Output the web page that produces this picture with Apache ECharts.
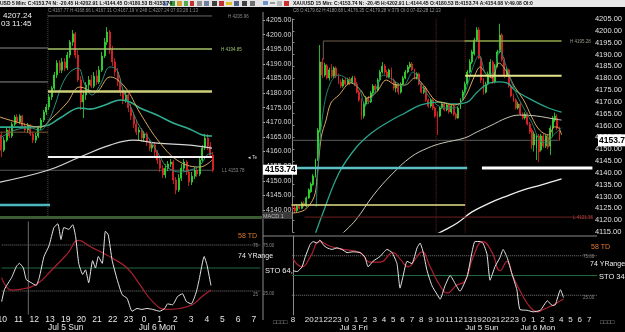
<!DOCTYPE html>
<html><head><meta charset="utf-8">
<script src="https://cdn.jsdelivr.net/npm/echarts/dist/echarts.min.js"></script>
<style>
html,body{margin:0;padding:0;background:#000;width:625px;height:332px;overflow:hidden}
#left{position:absolute;left:0;top:0;width:262px;height:332px}
#right{position:absolute;left:262px;top:0;width:363px;height:332px}
</style></head><body>
<div id="left"></div><div id="right"></div>
<script>
// ================= DATA =================
// ---- Left panel (XAUUSD, bars of 10 min from Fri 10:00) ----
const leftHourLabels=['10','11','12','13','19','20','21','22','23','0','1','2','3','4','5','6','7'];
const leftDateLabels=[[24,'Jul 5 Sun'],[59,'Jul 6 Mon']];
// [open, close, low, high]
const leftCandles=[
[4165.6,4160.5,4158.2,4166.6],[4160.5,4163.9,4159.9,4164.9],[4163.9,4167.3,4163.3,4168.3],[4167.3,4165.3,4164.6,4168.0],
[4165.3,4169.3,4164.6,4170.0],[4169.3,4171.7,4168.7,4172.4],[4171.7,4170.0,4169.3,4172.7],[4170.0,4172.1,4169.3,4172.7],
[4172.1,4168.7,4168.0,4172.4],[4168.7,4167.3,4166.6,4169.7],[4167.3,4169.0,4166.3,4169.7],[4169.0,4166.0,4165.3,4169.3],
[4166.0,4163.9,4162.9,4166.6],[4163.9,4165.3,4162.9,4166.3],[4165.3,4168.0,4164.6,4168.7],[4168.0,4170.7,4167.3,4171.4],
[4170.7,4173.4,4170.0,4174.1],[4173.4,4175.1,4172.4,4176.1],[4175.1,4178.5,4174.1,4179.5],[4178.5,4181.5,4177.5,4182.2],
[4181.5,4186.0,4180.9,4187.0],[4186.0,4190.0,4184.9,4191.0],[4190.0,4187.6,4186.6,4191.0],[4187.6,4190.4,4186.6,4191.7],
[4190.4,4188.3,4187.3,4191.7],[4188.3,4192.7,4187.6,4193.8],[4192.7,4197.1,4191.7,4197.8],[4197.1,4199.9,4195.8,4201.2],
[4199.9,4192.7,4191.7,4200.5],[4192.7,4184.3,4183.6,4194.4],[4184.3,4176.8,4174.1,4185.6],[4176.8,4179.2,4171.4,4180.2],
[4179.2,4182.6,4177.5,4183.6],[4182.6,4184.3,4180.2,4185.6],[4184.3,4182.2,4181.5,4186.0],[4182.2,4185.6,4181.5,4187.0],
[4185.6,4183.6,4182.6,4187.6],[4183.6,4187.6,4182.9,4189.0],[4187.6,4192.4,4187.0,4193.8],[4192.4,4197.1,4191.7,4198.5],
[4197.1,4200.5,4196.1,4202.2],[4200.5,4194.4,4193.1,4201.2],[4194.4,4190.4,4189.0,4195.8],[4190.4,4187.0,4185.6,4191.7],
[4187.0,4183.6,4182.2,4188.3],[4183.6,4180.2,4178.8,4184.9],[4180.2,4177.5,4176.1,4181.5],[4177.5,4179.2,4176.5,4180.2],
[4179.2,4174.8,4173.4,4179.9],[4174.8,4172.1,4170.7,4176.1],[4172.1,4169.3,4168.0,4173.4],[4169.3,4166.6,4165.6,4170.7],
[4166.6,4167.3,4163.9,4168.3],[4167.3,4164.6,4163.3,4168.0],[4164.6,4166.0,4163.3,4167.0],[4166.0,4163.3,4161.9,4166.6],
[4163.3,4161.2,4160.2,4164.3],[4161.2,4162.2,4159.9,4162.9],[4162.2,4159.9,4158.5,4163.3],[4159.9,4157.1,4155.8,4160.5],
[4157.1,4154.4,4153.1,4158.2],[4154.4,4152.1,4151.0,4155.4],[4152.1,4154.4,4151.0,4155.8],[4154.4,4155.8,4153.4,4156.8],
[4155.8,4156.5,4154.8,4157.5],[4156.5,4150.4,4149.0,4157.1],[4150.4,4147.0,4145.6,4151.4],[4147.0,4151.0,4146.3,4152.4],
[4151.0,4154.4,4150.0,4155.8],[4154.4,4156.5,4153.4,4157.5],[4156.5,4153.1,4152.1,4157.1],[4153.1,4149.7,4148.3,4154.1],
[4149.7,4151.7,4148.7,4153.1],[4151.7,4153.7,4150.7,4154.8],[4153.7,4152.4,4151.4,4154.8],[4152.4,4157.1,4151.7,4158.2],
[4157.1,4161.2,4156.5,4162.2],[4161.2,4164.6,4160.5,4166.0],[4164.6,4161.9,4160.5,4166.0],[4161.9,4158.8,4157.8,4163.3],
[4158.8,4153.7,4153.1,4159.9]];
// moving averages: [bar, price]
const leftMaFast=[[-0.5,4164.6],[5.2,4167.3],[10.8,4168.0],[14.6,4167.3],[17.6,4170.0],[20.3,4175.8],[22.9,4182.6],[26.0,4187.0],[29.0,4188.3],[31.6,4182.6],[34.3,4179.2],[37.3,4182.6],[41.1,4188.7],[43.7,4187.6],[46.0,4180.9],[49.4,4174.1],[52.4,4168.3],[56.2,4163.9],[60.0,4158.2],[62.6,4154.8],[67.5,4153.1],[71.3,4153.7],[75.1,4155.4],[77.7,4158.8],[79.6,4159.5]];
const leftMaMid=[[-0.5,4171.7],[7.1,4169.7],[14.6,4168.3],[19.5,4171.7],[24.8,4176.5],[29.7,4181.9],[35.4,4180.2],[41.1,4185.3],[46.7,4181.9],[52.4,4173.1],[60.0,4162.9],[67.5,4156.5],[75.1,4154.8],[79.6,4157.1]];
const leftMaSlow=[[-0.5,4168.3],[7.1,4168.3],[16.5,4168.7],[22.2,4171.4],[29.7,4174.8],[33.5,4174.4],[39.2,4175.8],[44.9,4177.5],[48.6,4176.8],[52.4,4174.8],[58.8,4172.4],[64.9,4169.7],[71.3,4167.6],[76.2,4165.6],[79.6,4165.3]];
const leftMaLong=[[-0.5,4149.7],[17.6,4153.7],[29.7,4158.2],[41.1,4162.2],[49.8,4163.9],[58.8,4162.9],[71.3,4162.2],[79.6,4161.2]];
const leftStochK=[[-0.5,13.5],[0.6,27],[3.3,39.6],[5.2,52],[6.3,55],[7.8,50],[8.9,37.5],[10.8,34],[12.7,31],[13.9,39.6],[15.7,62.5],[17.6,74],[19.5,94],[21.0,98],[22.2,81],[23.3,94],[25.2,92],[26.7,97],[27.8,84],[29.0,55],[30.5,43],[31.6,48],[32.8,34],[34.3,58],[35.4,50],[36.5,62.5],[38.0,55],[39.2,90],[40.3,86],[41.8,58],[43.7,37.5],[45.6,21],[47.5,17],[49.4,3],[51.3,6],[53.2,5],[55.1,6],[57.3,5],[60.0,3],[61.9,6],[63.0,11],[64.9,10],[66.8,19],[68.7,22],[70.2,13.5],[72.1,11],[74.0,24],[75.1,37.5],[77.0,62.5],[78.1,53],[79.6,31]];
const leftStochD=[[-0.5,39.6],[3.3,26],[7.1,27],[12.7,32],[18.4,47],[24.8,66],[29.0,80],[33.5,73],[38.4,66],[42.2,60],[47.5,50],[52.4,32],[57.3,13.5],[62.6,5],[67.5,6],[72.4,10],[76.2,19],[79.6,26]];
// horizontal levels: [price, fromBar, toBar]
const leftLevels=[[4205.96,17.6,79.6],[4195.1,-0.5,17.6],[4194.8,17.6,79.6],[4183.6,-0.5,17.6],[4180.4,17.6,79.6],[4166.6,-0.5,17.6],[4158.2,17.6,79.6],[4153.7,-0.5,79.6],[4141.9,-0.5,18.4]];
const leftSessionBar=17.6, leftCursorBar=9.7;

// ---- Right panel (XAUUSD 15 min) ----
const rightHourLabels=['20','21','22','23','0','1','2','3','4','5','6','7','8','9','10','11','12','13','19','20','21','22','23','0','1','2','3','4','5','6','7'];
const rightFirstLabel='8';
const rightDateLabels=[[26,'Jul 3 Fri'],[81,'Jul 5 Sun'],[105,'Jul 6 Mon']];
const rightCandles=[
[4126.4,4124.7,4124.0,4127.0],[4125.2,4123.9,4123.0,4126.0],[4124.0,4125.8,4123.5,4126.5],[4125.8,4125.0,4124.5,4126.6],
[4125.0,4127.2,4124.6,4127.8],[4127.2,4126.0,4125.5,4128.0],[4126.0,4129.4,4125.5,4130.0],[4129.4,4132.8,4129.0,4133.5],
[4132.0,4135.3,4131.5,4136.0],[4135.0,4138.7,4134.5,4139.5],[4138.7,4145.4,4138.0,4146.0],[4145.4,4158.0,4145.0,4159.0],
[4158.0,4186.8,4157.0,4194.0],[4186.8,4181.3,4180.0,4188.5],[4181.3,4185.6,4180.5,4186.5],[4185.2,4180.1,4179.5,4186.0],
[4180.1,4183.5,4179.0,4184.5],[4183.5,4180.9,4180.0,4186.0],[4180.9,4184.3,4180.0,4185.0],[4184.3,4180.9,4180.0,4185.0],
[4180.9,4178.4,4177.5,4182.0],[4178.4,4176.7,4175.8,4179.5],[4176.7,4179.2,4176.0,4180.0],[4179.2,4177.5,4176.8,4180.5],
[4177.5,4179.6,4177.0,4180.2],[4179.6,4178.0,4177.0,4180.5],[4178.0,4180.1,4177.5,4181.0],[4180.1,4177.5,4176.5,4181.0],
[4177.5,4174.1,4173.5,4178.5],[4174.1,4170.8,4170.0,4175.0],[4170.8,4164.0,4162.5,4171.5],[4164.0,4169.1,4163.0,4170.0],
[4169.1,4171.6,4168.0,4172.5],[4171.6,4170.0,4169.0,4172.5],[4170.0,4173.7,4169.5,4174.5],[4173.7,4176.7,4173.0,4177.5],
[4176.7,4175.0,4174.0,4177.5],[4175.0,4179.2,4174.5,4180.0],[4179.2,4182.6,4178.5,4183.5],[4182.6,4185.1,4182.0,4186.8],
[4185.1,4182.6,4181.5,4186.0],[4182.6,4180.5,4180.0,4183.5],[4180.5,4183.5,4180.0,4184.0],[4183.5,4179.2,4178.5,4184.5],
[4179.2,4175.8,4174.8,4180.0],[4175.8,4177.5,4174.0,4178.5],[4177.5,4174.1,4173.0,4178.0],[4174.1,4177.5,4173.5,4178.2],
[4177.5,4180.1,4177.0,4181.0],[4180.1,4182.6,4179.5,4183.5],[4182.6,4184.7,4182.0,4185.6],[4184.7,4186.0,4184.0,4186.9],
[4186.0,4183.5,4183.0,4186.8],[4183.5,4180.1,4179.5,4184.0],[4180.1,4181.8,4179.5,4182.5],[4181.8,4177.5,4177.0,4182.3],
[4177.5,4174.1,4173.5,4178.0],[4174.1,4175.8,4173.3,4176.6],[4175.8,4170.8,4170.0,4176.5],[4170.8,4168.2,4167.5,4171.5],
[4168.2,4170.8,4167.5,4171.5],[4170.8,4167.4,4166.5,4171.5],[4167.4,4164.0,4163.3,4168.0],[4164.8,4163.2,4156.0,4166.0],
[4164.0,4167.4,4163.5,4168.0],[4167.4,4169.1,4167.0,4170.0],[4169.1,4166.6,4166.0,4169.8],[4166.6,4168.7,4166.0,4169.5],
[4168.7,4165.7,4165.0,4169.5],[4165.7,4168.2,4165.0,4169.0],[4168.2,4164.8,4164.0,4169.0],[4164.8,4163.2,4162.5,4165.5],
[4163.2,4167.4,4162.8,4168.0],[4167.4,4170.8,4167.0,4171.5],[4170.8,4174.1,4170.5,4175.0],[4174.1,4177.5,4173.5,4178.5],
[4177.5,4182.6,4177.0,4183.5],[4182.6,4186.8,4182.0,4188.0],[4186.8,4191.1,4186.0,4192.0],[4190.2,4196.1,4189.5,4197.0],
[4196.1,4200.4,4195.5,4201.6],[4200.4,4188.5,4188.0,4201.5],[4188.5,4179.2,4178.0,4189.0],[4179.2,4174.1,4173.0,4180.0],
[4174.1,4177.5,4173.5,4178.5],[4177.5,4181.8,4177.0,4182.8],[4180.9,4186.8,4180.5,4188.0],[4186.8,4178.4,4177.5,4187.5],
[4178.4,4185.1,4177.8,4186.0],[4185.1,4191.1,4184.5,4192.0],[4191.1,4198.2,4190.5,4203.0],[4198.2,4187.7,4187.0,4199.0],
[4187.7,4180.9,4180.0,4188.5],[4180.9,4183.5,4180.5,4184.5],[4183.5,4176.7,4176.0,4184.0],[4176.7,4172.5,4172.0,4177.5],
[4172.5,4170.8,4170.0,4173.5],[4170.8,4167.4,4166.8,4171.5],[4167.4,4169.1,4166.8,4170.0],[4169.1,4164.8,4164.0,4169.8],
[4164.8,4163.2,4162.5,4165.5],[4163.2,4164.8,4162.5,4165.6],[4164.8,4160.6,4160.0,4165.5],[4160.6,4157.3,4156.5,4161.5],
[4158.1,4151.8,4150.0,4159.0],[4151.8,4156.4,4149.0,4157.5],[4150.5,4155.6,4145.4,4156.5],[4155.6,4148.8,4144.5,4156.5],
[4149.7,4155.6,4149.0,4156.5],[4155.6,4151.3,4150.5,4156.5],[4151.3,4155.6,4150.5,4156.2],[4155.2,4150.9,4150.0,4156.0],
[4151.3,4158.9,4147.5,4160.0],[4158.9,4163.2,4155.0,4164.0],[4162.3,4164.0,4161.5,4165.5],[4163.2,4158.9,4158.0,4164.8],
[4158.9,4153.74,4153.5,4159.5]];
const rightMaFast=[[10.3,4125.6],[11.6,4149.7],[13.8,4168.7],[16.7,4178.4],[20.2,4181.3],[24.5,4179.2],[28.8,4175.9],[31.8,4168.7],[35.2,4172.9],[39.5,4181.3],[43.7,4179.2],[48.0,4176.7],[52.3,4182.6],[56.6,4175.9],[61.8,4169.5],[66.1,4167.4],[70.3,4167.4],[73.8,4170.8],[78.0,4183.5],[81.1,4189.8],[84.5,4181.3],[87.5,4182.6],[90.1,4191.9],[93.1,4184.3],[96.5,4175.0],[100.4,4167.4],[103.9,4161.5],[107.3,4153.9],[110.4,4152.6],[113.4,4156.0],[116.9,4159.0]];
const rightMaMid=[[0,4123.0],[5.2,4124.3],[9.4,4129.8],[10.7,4138.2],[12.5,4155.1],[14.6,4162.3],[16.7,4169.5],[20.2,4172.9],[25.3,4178.0],[29.6,4175.0],[32.2,4171.6],[36.5,4174.1],[40.8,4179.2],[45.0,4177.1],[48.9,4177.1],[53.2,4180.1],[57.5,4176.3],[61.8,4170.8],[66.1,4169.5],[70.3,4168.7],[72.9,4169.5],[75.9,4173.7],[78.9,4180.5],[81.5,4184.7],[84.5,4181.3],[86.6,4180.1],[89.7,4186.4],[93.1,4182.6],[96.5,4176.3],[100.4,4170.8],[103.9,4163.6],[107.3,4158.1],[111.2,4156.0],[113.8,4159.4],[115.6,4159.0],[116.9,4156.0]];
const rightMaSlow=[[9.9,4114.2],[12.9,4122.2],[20.2,4139.9],[27.5,4150.5],[34.3,4156.8],[41.6,4161.5],[48.9,4165.3],[55.8,4168.7],[63.1,4169.9],[70.3,4169.1],[75.9,4169.9],[80.2,4174.1],[85.8,4178.0],[89.7,4178.4],[93.1,4178.0],[96.5,4175.0],[103.9,4170.8],[111.2,4167.4],[116.9,4165.7]];
const rightMaLong=[[21.5,4114.2],[27.5,4120.1],[35.2,4130.6],[42.9,4139.1],[51.5,4146.7],[58.8,4150.5],[65.2,4152.6],[74.7,4154.7],[80.2,4157.3],[85.8,4159.8],[93.1,4163.2],[98.6,4164.4],[106.1,4164.0],[113.4,4162.8],[116.9,4162.3]];
const rightMaLonger=[[60.0,4112.9],[65.2,4115.4],[71.6,4118.8],[78.0,4123.5],[85.8,4127.3],[93.1,4130.2],[100.4,4132.8],[108.2,4134.9],[116.9,4137.4]];
const rightStochK=[[0,56],[1.8,55],[3.9,61],[5.2,73],[7.3,89],[8.6,93],[10.3,91],[11.6,95],[12.9,89],[14.6,85],[16.7,83],[18.9,85],[21.0,83],[23.2,79],[25.8,80],[28.8,79],[30.9,73],[32.2,61],[34.3,68],[37.3,74],[40.3,83],[42.5,79],[44.6,65],[45.9,34],[47.2,49],[48.9,68],[51.0,65],[53.2,85],[54.5,91],[55.8,80],[57.5,56],[59.6,37],[61.8,26],[63.1,20],[65.2,37],[67.4,50],[69.5,40],[71.6,30],[74.7,49],[76.8,80],[78.0,93],[80.2,93],[81.5,91],[83.2,77],[84.5,44],[86.6,61],[88.8,73],[90.1,83],[91.8,73],[93.9,52],[96.0,32],[97.3,7],[100.4,6],[103.0,4],[106.1,6],[109.1,18],[111.2,12],[112.5,13],[114.7,32],[116.0,22]];
const rightStochD=[[0,71],[3.9,61],[7.3,73],[11.6,93],[15.9,87],[21.5,83],[28.8,79],[33.0,67],[37.3,67],[42.9,79],[45.9,71],[49.3,61],[53.2,74],[55.3,80],[58.8,61],[63.1,37],[66.1,28],[70.3,38],[73.8,43],[77.2,73],[81.5,93],[85.4,79],[88.8,56],[91.8,68],[94.3,49],[98.2,26],[101.7,10],[104.8,4],[107.3,7],[111.2,12],[114.7,18],[116.0,20]];
const rightLevels=[[4195.7,13.4,74.7],[4195.7,74.7,116.9],[4181.0,75.0,116.9],[4153.74,0,115.6],[4142.0,-12.5,75.9],[4142.0,82.3,130.3],[4126.4,-0.4,75.0],[4121.3,5.2,130.3]];
const rightBoxCorner=[[13.4,4195.7],[13.4,4187.7]];
const rightMarkerBars=[62.4,75.0];
const lastPrice=4153.74;

// ================= STYLE / BUILD =================
const FONT='"Liberation Sans", Arial, sans-serif';
const UP='#33e033', DOWN='#e8262a';
function ln(data,xi,yi,color,width,smooth,type,z){
  return {type:'line',xAxisIndex:xi,yAxisIndex:yi,data:data,showSymbol:false,symbol:'none',smooth:smooth||false,
    silent:true,animation:false,z:z||3,lineStyle:{color:color,width:width,type:type||'solid'}};
}
function txt(x,y,text,fill,size,weight,extra){
  return Object.assign({type:'text',z:100,silent:true,style:{x:x,y:y,text:text,fill:fill,
    font:(weight||'normal')+' '+size+'px '+FONT}},extra||{});
}
function rect(x,y,w,h,fill,z){return {type:'rect',z:z||99,silent:true,shape:{x:x,y:y,width:w,height:h},style:{fill:fill}};}
function labAxis(names,fmt,offset,size,margin){
  return {type:'category',gridIndex:1,data:names,boundaryGap:true,position:'bottom',offset:offset,
    axisLine:{show:false},axisTick:{show:false},splitLine:{show:false},
    axisLabel:{interval:0,formatter:fmt,color:'#e6e6e6',fontSize:size,margin:margin,fontFamily:FONT}};
}

// ---------- LEFT ----------
const LN=99;
const leftNames=[],leftLab=[],leftDate=[];
for(let i=0;i<LN;i++){leftNames.push('L'+i);leftLab.push('');leftDate.push('');}
// the first hour label (slot 0) sits on the panel edge; it is drawn separately so it can be clipped
leftHourLabels.forEach((t,k)=>{if(k>0)leftLab[k*6]=t;});
leftDateLabels.forEach(d=>{leftDate[d[0]]=d[1];});
const leftLevelStyle=[['#6a6a6a',1],['#8c8c8c',1],['#a6c46a',1.5],['#8c8c8c',1],['#cfcf7a',2.5],['#7a5a30',1],['#f2f2f2',2],['#5a5a5a',1],['#49b8c0',2.5]];

const lc=echarts.init(document.getElementById('left'),null,{renderer:'canvas'});
const lSeries=[
  {type:'candlestick',xAxisIndex:0,yAxisIndex:0,data:leftCandles,barWidth:1.5,z:2,animation:false,silent:true,
   itemStyle:{color:UP,color0:DOWN,borderColor:UP,borderColor0:DOWN,borderWidth:0.8}},
];
leftLevels.forEach((l,i)=>{const s=leftLevelStyle[i];lSeries.push(ln([[l[1],l[0]],[l[2],l[0]]],1,0,s[0],s[1],false,'solid',i===7?1:4));});
lSeries.push(ln([[leftSessionBar,4138.2],[leftSessionBar,4207.3]],1,0,'#444',1,false,'dotted',1));
lSeries.push(ln(leftMaLong,1,0,'#d6d6d6',1.2,0.4));
lSeries.push(ln(leftMaSlow,1,0,'#2fae90',1.6,0.4));
lSeries.push(ln(leftMaMid,1,0,'#d8a85c',1,0.4));
lSeries.push(ln(leftMaFast,1,0,'#2a8f7a',1,0.4));
lSeries.push(ln([[-0.5,75],[98.5,75]],3,1,'#777',1,false,'dotted',1));
lSeries.push(ln([[-0.5,25],[98.5,25]],3,1,'#777',1,false,'dotted',1));
lSeries.push(ln([[-0.5,50],[98.5,50]],3,1,'#1e6b3c',1,false,'solid',1));
lSeries.push(ln([[leftCursorBar,-3],[leftCursorBar,103]],3,1,'#6a6a6a',1,false,'solid',1));
lSeries.push(ln(leftStochD,3,1,'#a8202e',1.2,0.5));
lSeries.push(ln(leftStochK,3,1,'#e6e6e6',1,0.15));

lc.setOption({
  backgroundColor:'#000',animation:false,
  grid:[{left:0,top:12,width:262,height:204},{left:0,top:222,width:262,height:96}],
  xAxis:[
    {type:'category',gridIndex:0,data:leftNames,boundaryGap:true,show:false},
    {type:'value',gridIndex:0,min:-0.5,max:LN-0.5,show:false},
    labAxis(leftNames,(v,i)=>leftLab[i],0,8.5,1),
    {type:'value',gridIndex:1,min:-0.5,max:LN-0.5,show:false},
    labAxis(leftNames,(v,i)=>leftDate[i],9,8.5,0)
  ],
  yAxis:[{type:'value',gridIndex:0,min:4138.2,max:4207.3,show:false},{type:'value',gridIndex:1,min:0,max:100,show:false}],
  series:lSeries
});
const firstLabX=lc.convertToPixel({xAxisIndex:2},'L0');
lc.setOption({
  graphic:[
    rect(0,0,262,7,'#e4e4e4'),
    txt(0,1,'USD 5 Min: C:4153.74 N: -20.45 H:4202.91 L:4144.45 O:4180.53 B:4153.74','#111',5,'bold'),
    rect(163,1,5,5,'#8aa0c8'),rect(170,1,5,5,'#3a9a3a'),rect(177,1,5,5,'#d4a030'),rect(184,1,4,5,'#55aa55'),
    rect(190,1,4,5,'#c83030'),rect(197,1,5,5,'#909090'),rect(204,1,5,5,'#7080a0'),rect(212,1,5,5,'#404040'),
    rect(219,1,5,5,'#c03030'),rect(226,2,6,3,'#e0c020'),rect(234,1,5,5,'#506080'),rect(242,1,5,5,'#404040'),rect(250,1,5,5,'#707070'),
    txt(48,8,'C:4167.77 H:4168.66 L:4167.31 O:4167.19 V:248 C:4207.24 07:03:28 1:13','#8a8a8a',4.5),
    txt(3,12,'4207.24','#f0f0f0',8),
    txt(1,20,'03 11:45','#f0f0f0',8),
    txt(228,14,'H 4205.96','#8a8a8a',4.5),
    txt(221,47,'H 4194.85','#9cc070',4.5),
    txt(222,168,'L1 4153.78','#8a8a8a',4.5),
    txt(248,155,'\u25C2 Te','#dddddd',4.5),
    rect(0,216,262,3,'#3c5a34',50),
    txt(238,233,'58 TD','#e07a30',7),
    txt(238,253,'74 YRange','#eeeeee',7),
    txt(253,243,'75','#888',4.5),
    txt(253,292,'25','#888',4.5),
    txt(firstLabX-5.5,315,leftHourLabels[0],'#e6e6e6',8.5)
  ]
});

// ---------- RIGHT ----------
const RPAD=12, RN=143;
const rightNames=[],rightLab=[],rightDate=[];
for(let i=0;i<RN;i++){rightNames.push('R'+i);rightLab.push('');rightDate.push('');}
rightLab[RPAD]=rightFirstLabel;
rightHourLabels.forEach((t,j)=>{rightLab[RPAD+7+4*j]=t;});
rightDateLabels.forEach(d=>{rightDate[RPAD+d[0]]=d[1];});
const rightCandleData=[];for(let i=0;i<RPAD;i++)rightCandleData.push('-');
rightCandles.forEach(c=>rightCandleData.push(c));
const rightLevelStyle=[['#6e5c4c',1],['#93a84a',1.5],['#e6e48a',2],['#5c5c5c',1],['#5cc0c4',2.5],['#ffffff',3],['#e8e08a',1.5],['#6e2020',1]];
const rmin=-12.5, rmax=130.5;

const rc=echarts.init(document.getElementById('right'),null,{renderer:'canvas'});
const rSeries=[
  {type:'candlestick',xAxisIndex:0,yAxisIndex:0,data:rightCandleData,barWidth:1.4,z:2,animation:false,silent:true,
   itemStyle:{color:UP,color0:DOWN,borderColor:UP,borderColor0:DOWN,borderWidth:0.8}},
];
rightLevels.forEach((l,i)=>{const s=rightLevelStyle[i];rSeries.push(ln([[l[1],l[0]],[l[2],l[0]]],1,0,s[0],s[1],false,'solid',i===3?1:4));});
rSeries.push(ln(rightBoxCorner,1,0,'#6e5c4c',1,false,'solid',1));
rightMarkerBars.forEach(b=>rSeries.push(ln([[b,4113],[b,4207]],1,0,'#6a2424',1,false,'dotted',1)));
rSeries.push(ln(rightMaLonger,1,0,'#f0f0f0',1.3,0.4));
rSeries.push(ln(rightMaLong,1,0,'#c8c8b8',1,0.4));
rSeries.push(ln(rightMaSlow,1,0,'#2aa58c',1.3,0.4));
rSeries.push(ln(rightMaMid,1,0,'#d8a85c',1,0.35));
rSeries.push(ln(rightMaFast,1,0,'#1f806c',1,0.35));
rSeries.push(ln([[-0.5,75],[130.5,75]],3,1,'#777',1,false,'dotted',1));
rSeries.push(ln([[-0.5,25],[130.5,25]],3,1,'#777',1,false,'dotted',1));
rSeries.push(ln([[-0.5,50],[130.5,50]],3,1,'#1e6b3c',1.2,false,'solid',1));
rSeries.push(ln(rightStochD,3,1,'#b02030',1.2,0.5));
rSeries.push(ln(rightStochK,3,1,'#e6e6e6',1,0.15));

rc.setOption({
  backgroundColor:'#000',animation:false,
  grid:[{left:1.7,top:19,width:333.6,height:213},{left:1.7,top:236,width:333.6,height:82},{left:1,top:20,width:333,height:190}],
  xAxis:[
    {type:'category',gridIndex:0,data:rightNames,boundaryGap:true,show:false},
    {type:'value',gridIndex:0,min:rmin,max:rmax,show:false},
    labAxis(rightNames,(v,i)=>rightLab[i],0,8,1),
    {type:'value',gridIndex:1,min:rmin,max:rmax,show:false},
    labAxis(rightNames,(v,i)=>rightDate[i],9,8,0),
    {type:'value',gridIndex:2,min:0,max:1,show:false}
  ],
  yAxis:[
    {type:'value',gridIndex:0,position:'right',min:4115,max:4205,interval:5,splitLine:{show:false},
      axisLine:{show:true,lineStyle:{color:'#8a8a8a'}},axisTick:{show:true,length:2,lineStyle:{color:'#8a8a8a'}},
      axisLabel:{formatter:v=>v.toFixed(2),color:'#e0e0e0',fontSize:7.5,margin:2,fontFamily:FONT}},
    {type:'value',gridIndex:1,position:'right',min:0,max:100,splitLine:{show:false},axisLabel:{show:false},axisTick:{show:false},
      axisLine:{show:true,lineStyle:{color:'#8a8a8a'}}},
    {type:'value',gridIndex:2,position:'left',min:4140,max:4205,interval:5,splitLine:{show:false},
      axisLine:{show:false},axisTick:{show:true,inside:true,length:2,lineStyle:{color:'#aaa'}},
      axisLabel:{inside:true,formatter:v=>v.toFixed(2),color:'#d8d8d8',fontSize:7,margin:3,fontFamily:FONT}}
  ],
  series:rSeries
});

const yLeftBox=rc.convertToPixel({yAxisIndex:2},lastPrice);
const yRightBox=rc.convertToPixel({yAxisIndex:0},lastPrice);
rc.setOption({graphic:[
  {type:'line',z:60,silent:true,shape:{x1:1,y1:12,x2:1,y2:320},style:{stroke:'#8a8a8a',lineWidth:1}},
  {type:'line',z:60,silent:true,shape:{x1:1,y1:236,x2:335,y2:236},style:{stroke:'#8a8a8a',lineWidth:1}},
  rect(0,0,363,7,'#e8e8e8'),
  rect(1,1,5,4,'#6f95c8'),rect(8,2,5,2,'#9a9a9a'),rect(15,1,5,5,'#b8b8b8'),rect(22,1,5,5,'#d03030'),
  txt(31,1,'XAUUSD 15 Min: C:4153.74 N: -20.45 H:4202.91 L:4144.45 O:4180.53 B:4153.74 A:4154.08 V:49.08 OI:0','#111',5,'bold'),
  txt(31,8,'C8 O:4179.62 H:4180.68 L:4176.35 C:4179.28 V:379 OI:0 07-02-28 12:13','#9a9a9a',4.5),
  txt(308,39,'H 4195.28','#9a9a8a',4.5),
  txt(311,215,'L 4121.36','#b04040',4.5),
  rect(0,212,30,7,'#3a3a3a'),
  txt(1,213,'MACD 1','#bbbbbb',5.5),
  rect(1,yLeftBox-5,34,10,'#ffffff',101),
  txt(3,yLeftBox-4.5,lastPrice.toFixed(2),'#000',8.5,'bold',{z:102}),
  rect(336,yRightBox-6,27,12,'#ffffff',101),
  txt(337,yRightBox-4.5,lastPrice.toFixed(2),'#000',8.5,'bold',{z:102}),
  txt(-24,253,'74 YRange','#eeeeee',7),
  txt(3,267,'STO 64,','#eeeeee',7.5),
  txt(1,243,'75.00','#888',4.5),
  txt(1,291,'25.00','#888',4.5),
  txt(321,254,'75.00','#888',4.5),
  txt(321,295,'25.00','#888',4.5),
  txt(329,244,'58 TD','#e07a30',7),
  txt(328,261,'74 YRange','#eeeeee',7),
  txt(337,273,'STO 34','#eeeeee',7.5),
  txt(11,319,'\u25A1\u25A1\u25A1\u25A1','#aaaaaa',6),
  txt(338,319,'\u25A1\u25A1\u25A1\u25A1','#aaaaaa',6)
]});
</script></body></html>
